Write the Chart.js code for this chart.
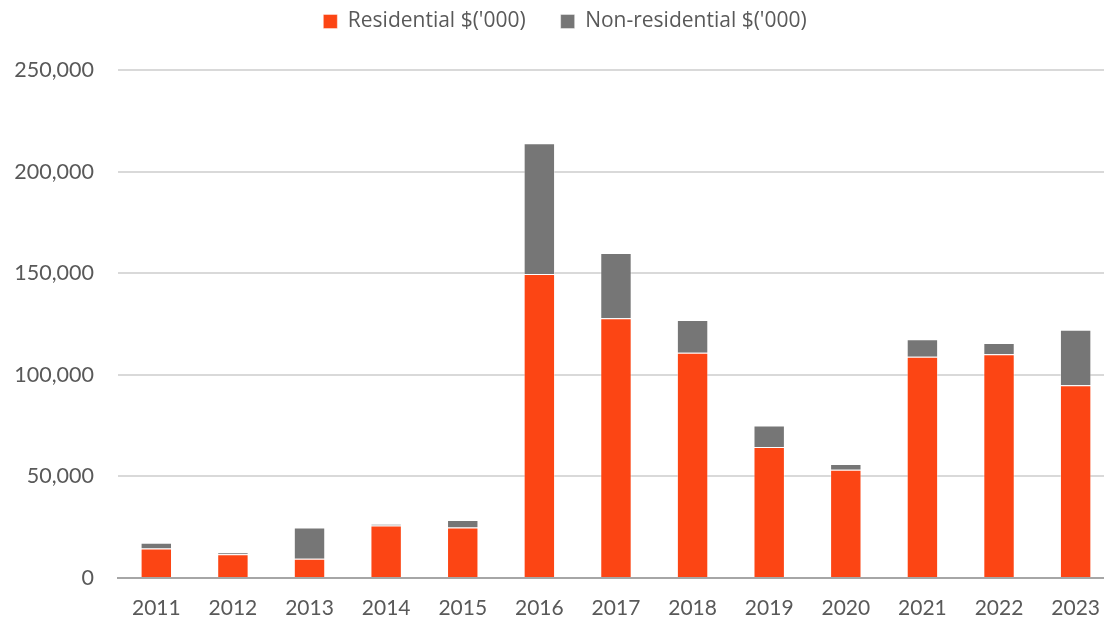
<!DOCTYPE html>
<html>
<head>
<meta charset="utf-8">
<script src="https://cdn.jsdelivr.net/npm/chart.js@4/dist/chart.umd.min.js"></script>
<style>
  html, body { margin: 0; padding: 0; background: #ffffff; overflow: hidden; }
  #wrap { width: 1118px; height: 620px; position: relative; }
</style>
</head>
<body>
<div id="wrap"><canvas id="c" width="1118" height="620"></canvas></div>
<script>
const categories = ["2011","2012","2013","2014","2015","2016","2017","2018","2019","2020","2021","2022","2023"];
const residential = [14500, 11700, 9500, 25800, 24800, 149600, 127800, 110900, 64500, 53300, 108900, 110100, 94800];
const nonResidential = [2800, 1000, 15300, 800, 3700, 64300, 32200, 16100, 10500, 2800, 8600, 5500, 27400];
const seriesLabels = ["Residential $('000)", "Non-residential $('000)"];
const yTicks = [0, 50000, 100000, 150000, 200000, 250000];

const FONT = "Lato, 'Open Sans', sans-serif";
const LEGEND_FONT = "'Open Sans', Lato, sans-serif";

const legendTweak = {
  id: 'legendTweak',
  beforeInit(chart) {
    const orig = chart.legend.fit;
    chart.legend.fit = function () {
      orig.bind(chart.legend)();
      this.height = 70;
    };
  },
  afterLayout(chart) {
    const lg = chart.legend;
    lg.top -= 24;
    lg.bottom -= 24;
    lg.left += 6;
    lg.right += 6;
  }
};

new Chart(document.getElementById('c'), {
  type: 'bar',
  data: {
    labels: categories,
    datasets: [
      {
        label: seriesLabels[0],
        data: residential,
        backgroundColor: '#FC4514',
        borderColor: 'rgba(255,255,255,0.4)',
        borderWidth: 1,
        barPercentage: 0.41,
        categoryPercentage: 1.0
      },
      {
        label: seriesLabels[1],
        data: nonResidential,
        backgroundColor: '#767676',
        borderColor: 'rgba(255,255,255,0.4)',
        borderWidth: 1,
        barPercentage: 0.41,
        categoryPercentage: 1.0
      }
    ]
  },
  options: {
    responsive: false,
    animation: false,
    devicePixelRatio: 1,
    layout: { padding: { left: 0, right: 0, top: 0, bottom: 0 } },
    plugins: {
      legend: {
        position: 'top',
        labels: {
          boxWidth: 14,
          boxHeight: 14,
          padding: 35,
          color: '#595959',
          font: { family: LEGEND_FONT, size: 21 }
        }
      },
      tooltip: { enabled: false }
    },
    scales: {
      x: {
        stacked: true,
        grid: { display: false, drawTicks: false },
        border: { display: true, color: '#a6a6a6', width: 2 },
        ticks: { color: '#595959', font: { family: FONT, size: 21 }, padding: 18, maxRotation: 0 },
        afterFit(scale) { scale.height = 42; }
      },
      y: {
        stacked: true,
        min: 0,
        max: 250000,
        afterBuildTicks(scale) { scale.ticks = yTicks.map(v => ({ value: v })); },
        grid: { color: '#d9d9d9', lineWidth: 2, drawTicks: false },
        border: { display: false },
        ticks: {
          color: '#595959',
          font: { family: FONT, size: 21.5 },
          padding: 24,
          callback: v => v.toLocaleString('en-US')
        },
        afterFit(scale) { scale.width = 118; }
      }
    }
  },
  plugins: [legendTweak]
});
</script>
</body>
</html>
